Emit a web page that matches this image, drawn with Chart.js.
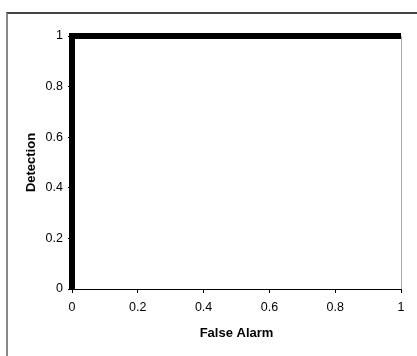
<!DOCTYPE html>
<html>
<head>
<meta charset="utf-8">
<script src="https://cdn.jsdelivr.net/npm/chart.js@4"></script>
<style>
  html, body { margin: 0; padding: 0; background: #fff; }
  #wrap { position: relative; width: 417px; height: 356px; overflow: hidden; }
  #frame { position: absolute; left: 6px; top: 12px; width: 420px; height: 360px;
           border-top: 2px solid #444; border-left: 2px solid #888; box-sizing: border-box; }
  canvas { position: absolute; left: 0; top: 0; }
</style>
</head>
<body>
<div id="wrap">
  <div id="frame"></div>
  <canvas id="wykres" width="417" height="356"></canvas>
</div>
<script>
// ROC curve: false alarm rate vs detection rate
const falseAlarm = [0, 0, 1];
const detection = [0, 1, 1];
const tickValues = [0, 0.2, 0.4, 0.6, 0.8, 1];

const points = falseAlarm.map((x, i) => ({ x: x, y: detection[i] }));

const fam = 'Liberation Sans, Arial, sans-serif';
const tickFont = { family: fam, size: 12.5 };
const titleFont = { family: fam, size: 13, weight: 'bold' };

new Chart(document.getElementById('wykres').getContext('2d'), {
  type: 'scatter',
  data: {
    datasets: [{
      data: points,
      showLine: true,
      borderColor: '#000',
      backgroundColor: '#000',
      borderWidth: 6,
      pointRadius: 0,
      borderJoinStyle: 'miter',
      clip: false
    }]
  },
  options: {
    responsive: false,
    animation: false,
    layout: { padding: { left: 0, top: 36, right: 16, bottom: 0 } },
    plugins: { legend: { display: false }, tooltip: { enabled: false } },
    scales: {
      x: {
        type: 'linear',
        min: 0, max: 1,
        afterBuildTicks: s => { s.ticks = tickValues.map(v => ({ value: v })); },
        afterFit: s => { s.height = 67; },
        ticks: { color: '#000', font: tickFont, padding: 7, maxRotation: 0,
                 callback: v => String(v) },
        grid: { display: true, drawOnChartArea: false, color: '#000', tickLength: 4, tickColor: '#000' },
        border: { display: true, color: '#000', width: 1 },
        title: { display: true, text: 'False Alarm', color: '#000', font: titleFont,
                 padding: { top: 0, bottom: 15 } }
      },
      y: {
        type: 'linear',
        min: 0, max: 1,
        afterBuildTicks: s => { s.ticks = tickValues.map(v => ({ value: v })); },
        afterFit: s => { s.width = 72; },
        ticks: { color: '#000', font: tickFont, padding: 5, callback: v => String(v) },
        grid: { display: true, drawOnChartArea: false, color: '#000', tickLength: 4, tickColor: '#000' },
        border: { display: true, color: '#000', width: 1 },
        title: { display: true, text: 'Detection', color: '#000', font: titleFont,
                 padding: { top: 24, bottom: 0 } }
      }
    }
  },
  plugins: [{
    id: 'rightEdge',
    afterDraw(chart) {
      const a = chart.chartArea, c = chart.ctx;
      c.save();
      c.strokeStyle = '#aaa';
      c.lineWidth = 1;
      c.beginPath();
      c.moveTo(a.right + 0.5, a.top);
      c.lineTo(a.right + 0.5, a.bottom);
      c.stroke();
      c.restore();
    }
  }]
});
</script>
</body>
</html>
